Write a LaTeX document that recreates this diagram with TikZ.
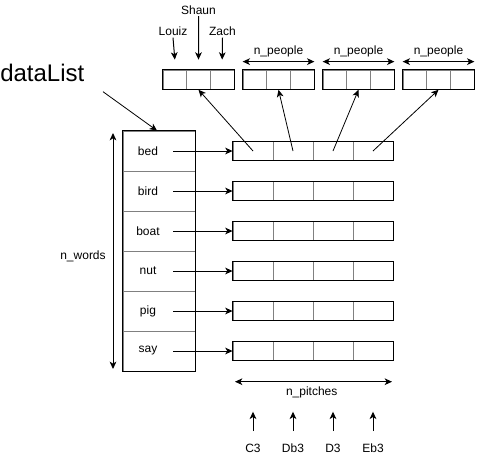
\documentclass[tikz,border=0pt]{standalone}
\usepackage{fontspec}
\setmainfont{Liberation Sans}
\usetikzlibrary{arrows.meta}
\begin{document}
\begin{tikzpicture}[x=0.75pt,y=-0.75pt,
 tip/.tip={Stealth[length=5.5pt,width=5pt,inset=1.5pt]},
 arr/.style={-tip, line width=0.75pt},
 darr/.style={tip-tip, line width=0.75pt},
 cell/.style={draw=gray, line width=0.6pt, inner sep=0pt, minimum width=30pt, minimum height=14.25pt},
 tcell/.style={draw=gray, line width=0.6pt, inner sep=0pt, minimum width=17.75pt, minimum height=14.5pt},
 wcell/.style={draw=gray, line width=0.6pt, inner sep=0pt, minimum width=54pt, minimum height=30pt},
 outer/.style={draw=black, line width=0.75pt},
 lbl/.style={font=\fontsize{9}{11}\selectfont, inner sep=1pt}
]
\useasboundingbox (0,0) rectangle (483,457);

% word column
\foreach \w [count=\k from 0] in {bed,bird,boat,nut,pig,say} {
  \node[wcell] (w\k) at (159,151+40*\k) {};
  \node[lbl] (wt\k) at (148,151+40*\k) {\w};
  \coordinate (s\k) at (173,151+40*\k);
  \foreach \c [count=\j] in {253,293,333,373} {
    \node[cell] (r\k-\j) at (\c,151+40*\k) {};
  }
  \draw[outer] (r\k-1.north west) rectangle (r\k-4.south east);
  \draw[arr] (s\k) -- (r\k-1.west);
}
\draw[outer] (w0.north west) rectangle (w5.south east);

% top arrays
\foreach \a [count=\i] in {163,243,323,403} {
  \foreach \j in {1,2,3} {
    \node[tcell] (t\i-\j) at (\a+23.67*\j-11.83,79.7) {};
  }
  \draw[outer] (t\i-1.north west) rectangle (t\i-3.south east);
}

% diagonal pointers
\foreach \i in {1,2,3,4} {
  \draw[arr, line width=0.6pt] (r0-\i.center) -- (t\i-2.south);
}

% names
\node[lbl] (lz) at (173,31.7) {Louiz};
\node[lbl] (sh) at (198.5,10) {Shaun};
\node[lbl] (zc) at (222.5,31.7) {Zach};
\coordinate (lzE) at ([yshift=7.5pt]t1-1.north);
\coordinate (shE) at ([yshift=7.5pt]t1-2.north);
\coordinate (zcE) at ([yshift=7.5pt]t1-3.north);
\draw[arr] (lz.south) -- (lzE);
\draw[arr] (sh.south) -- (shE);
\draw[arr] (zc.south) -- (zcE);

% n_people
\foreach \i in {2,3,4} {
  \coordinate (pa\i) at ([yshift=6pt]t\i-1.north west);
  \coordinate (pb\i) at ([yshift=6pt]t\i-3.north east);
  \draw[darr] (pa\i) -- (pb\i);
  \node[lbl] (np\i) at ([yshift=13.5pt]t\i-2.north) {n\_people};
}

% dataList
\node[font=\fontsize{18}{22}\selectfont, anchor=west, inner sep=0pt] (dl) at (0,73) {dataList};
\coordinate (dls) at (103,91.7);
\draw[arr, line width=0.6pt] (dls) -- ([xshift=-1.5pt]w0.north);

% n_words
\coordinate (nwa) at (113,133);
\coordinate (nwb) at (113,369);
\draw[darr] (nwa) -- (nwb);
\node[lbl] (nw) at (83,256) {n\_words};

% n_pitches
\coordinate (nta) at (235,381.7);
\coordinate (ntb) at (392,381.7);
\draw[darr] (nta) -- (ntb);
\node[lbl] (nt) at (311.7,392.7) {n\_pitches};

% pitches
\foreach \p [count=\j] in {C3,Db3,D3,Eb3} {
  \node[lbl] (p\j) at (213+40*\j,448) {\p};
  \coordinate (pb\j) at (213+40*\j,431);
  \coordinate (pt\j) at (213+40*\j,411.7);
  \draw[arr] (pb\j) -- (pt\j);
}
\end{tikzpicture}
\end{document}
